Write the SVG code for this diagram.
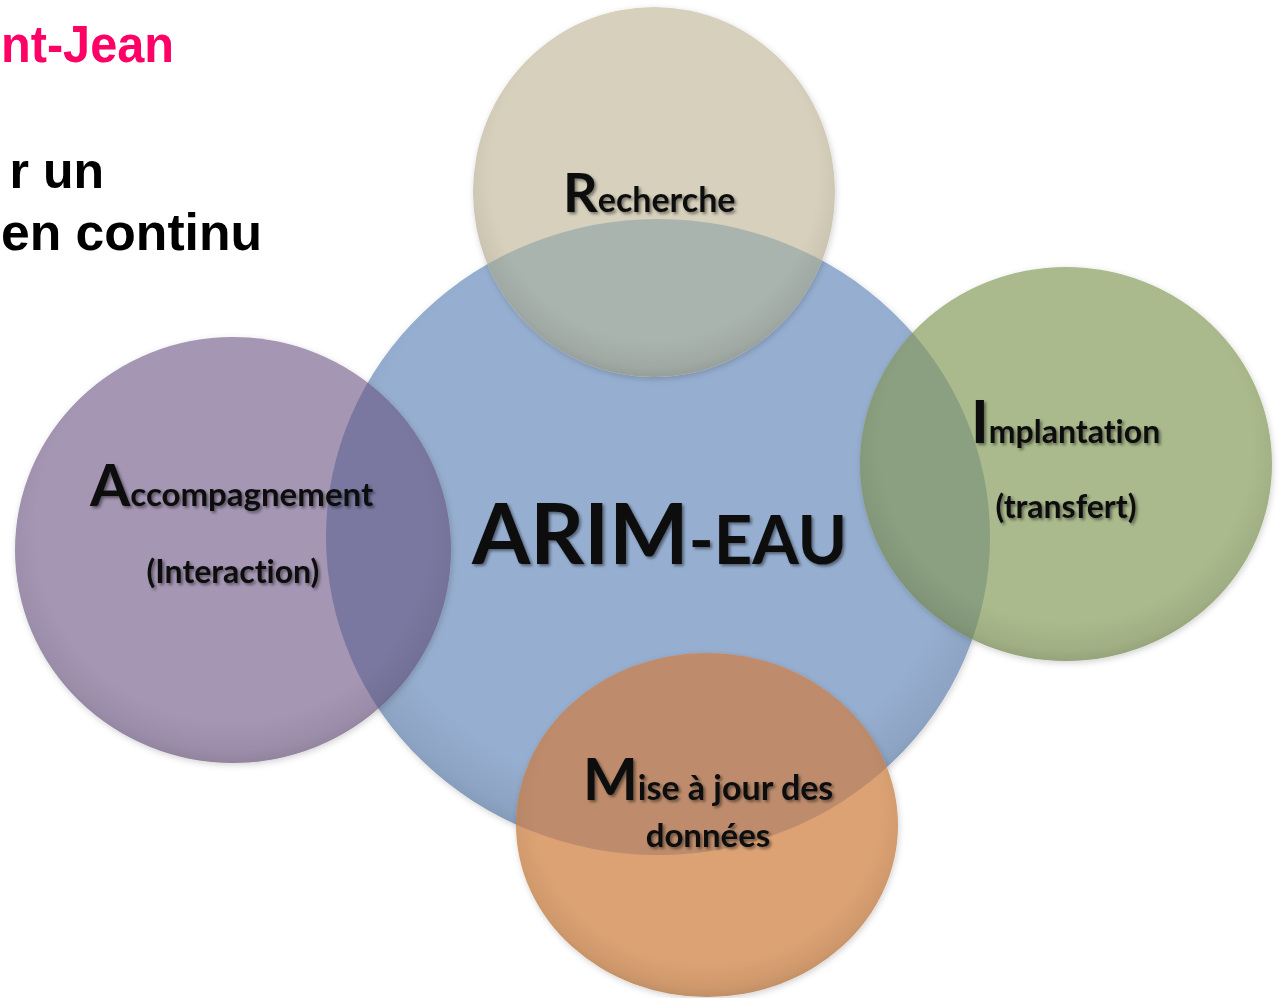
<svg xmlns="http://www.w3.org/2000/svg" width="1279" height="998" viewBox="0 0 1279 998">
  <defs>
    <style>
      .head { font-family: "Liberation Sans", Arial, sans-serif; font-weight: bold; }
      .lbl { font-family: Lato, "Open Sans", "DejaVu Sans", sans-serif; font-weight: bold; fill: #111; font-variant-ligatures: none; font-feature-settings: "liga" 0, "clig" 0; }
      .rim { fill: url(#rimGrad); }
    </style>
    <radialGradient id="rimGrad" cx="50%" cy="45%" r="55%">
      <stop offset="0.82" stop-color="#000" stop-opacity="0"/>
      <stop offset="0.95" stop-color="#000" stop-opacity="0.06"/>
      <stop offset="1" stop-color="#000" stop-opacity="0.12"/>
    </radialGradient>
    <filter id="soft" x="-10%" y="-10%" width="120%" height="120%">
      <feDropShadow dx="1" dy="2" stdDeviation="3" flood-color="#000" flood-opacity="0.18"/>
    </filter>
    <filter id="tshadow" x="-10%" y="-30%" width="120%" height="160%">
      <feGaussianBlur in="SourceGraphic" stdDeviation="0.6" result="b"/>
      <feDropShadow in="b" dx="2" dy="2" stdDeviation="1.5" flood-color="#000" flood-opacity="0.45"/>
    </filter>
    <clipPath id="clipBlue"><ellipse cx="658" cy="537" rx="332" ry="318"/></clipPath>
  </defs>

  <rect width="1279" height="998" fill="#ffffff"/>

  <g id="header">
    <text class="head" x="1" y="62" font-size="52" fill="#ff0066" textLength="173" lengthAdjust="spacingAndGlyphs">nt-Jean</text>
    <text class="head" x="104" y="188" font-size="50" fill="#000" text-anchor="end">r un</text>
    <text class="head" x="1" y="250" font-size="52" fill="#000" textLength="261" lengthAdjust="spacingAndGlyphs">en continu</text>
  </g>

  <g id="node-arim">
    <ellipse cx="658" cy="537" rx="332" ry="318" fill="#96aed0" filter="url(#soft)"/>
    <ellipse class="rim" cx="658" cy="537" rx="332" ry="318"/>
  </g>

  <g id="node-recherche">
    <ellipse cx="654" cy="192" rx="181" ry="185" fill="#d6d0bc" filter="url(#soft)"/>
    <ellipse cx="654" cy="192" rx="181" ry="185" fill="#aab4ae" clip-path="url(#clipBlue)"/>
    <ellipse class="rim" cx="654" cy="192" rx="181" ry="185"/>
    <text class="lbl" x="563" y="212" filter="url(#tshadow)"><tspan font-size="54">R</tspan><tspan font-size="34">echerche</tspan></text>
  </g>

  <g id="node-implantation">
    <ellipse cx="1066" cy="464" rx="206" ry="197" fill="#aaba8c" filter="url(#soft)"/>
    <ellipse cx="1066" cy="464" rx="206" ry="197" fill="#8aa080" clip-path="url(#clipBlue)"/>
    <ellipse class="rim" cx="1066" cy="464" rx="206" ry="197"/>
    <text class="lbl" x="971" y="443" filter="url(#tshadow)"><tspan font-size="60">I</tspan><tspan font-size="32">mplantation</tspan></text>
    <text class="lbl" x="1066" y="518" font-size="32" text-anchor="middle" filter="url(#tshadow)">(transfert)</text>
  </g>

  <g id="node-accompagnement">
    <ellipse cx="233" cy="550" rx="218" ry="213" fill="#a596b4" filter="url(#soft)"/>
    <ellipse cx="233" cy="550" rx="218" ry="213" fill="#7a78a0" clip-path="url(#clipBlue)"/>
    <ellipse class="rim" cx="233" cy="550" rx="218" ry="213"/>
    <text class="lbl" x="90" y="506" filter="url(#tshadow)"><tspan font-size="58">A</tspan><tspan font-size="33">ccompagnement</tspan></text>
    <text class="lbl" x="233" y="583" font-size="32" text-anchor="middle" filter="url(#tshadow)">(Interaction)</text>
  </g>

  <g id="node-mise">
    <ellipse cx="707" cy="825" rx="191" ry="172" fill="#dca273" filter="url(#soft)"/>
    <ellipse cx="707" cy="825" rx="191" ry="172" fill="#be8c6c" clip-path="url(#clipBlue)"/>
    <ellipse class="rim" cx="707" cy="825" rx="191" ry="172"/>
    <text class="lbl" x="583" y="800" filter="url(#tshadow)"><tspan font-size="58">M</tspan><tspan font-size="34">ise à jour des</tspan></text>
    <text class="lbl" x="708" y="847" font-size="33" text-anchor="middle" filter="url(#tshadow)">données</text>
  </g>

  <g id="center-label">
    <text class="lbl" x="472" y="564" filter="url(#tshadow)"><tspan font-size="84">ARIM</tspan><tspan font-size="67">-EAU</tspan></text>
  </g>

  <g id="connectors"/>
</svg>
